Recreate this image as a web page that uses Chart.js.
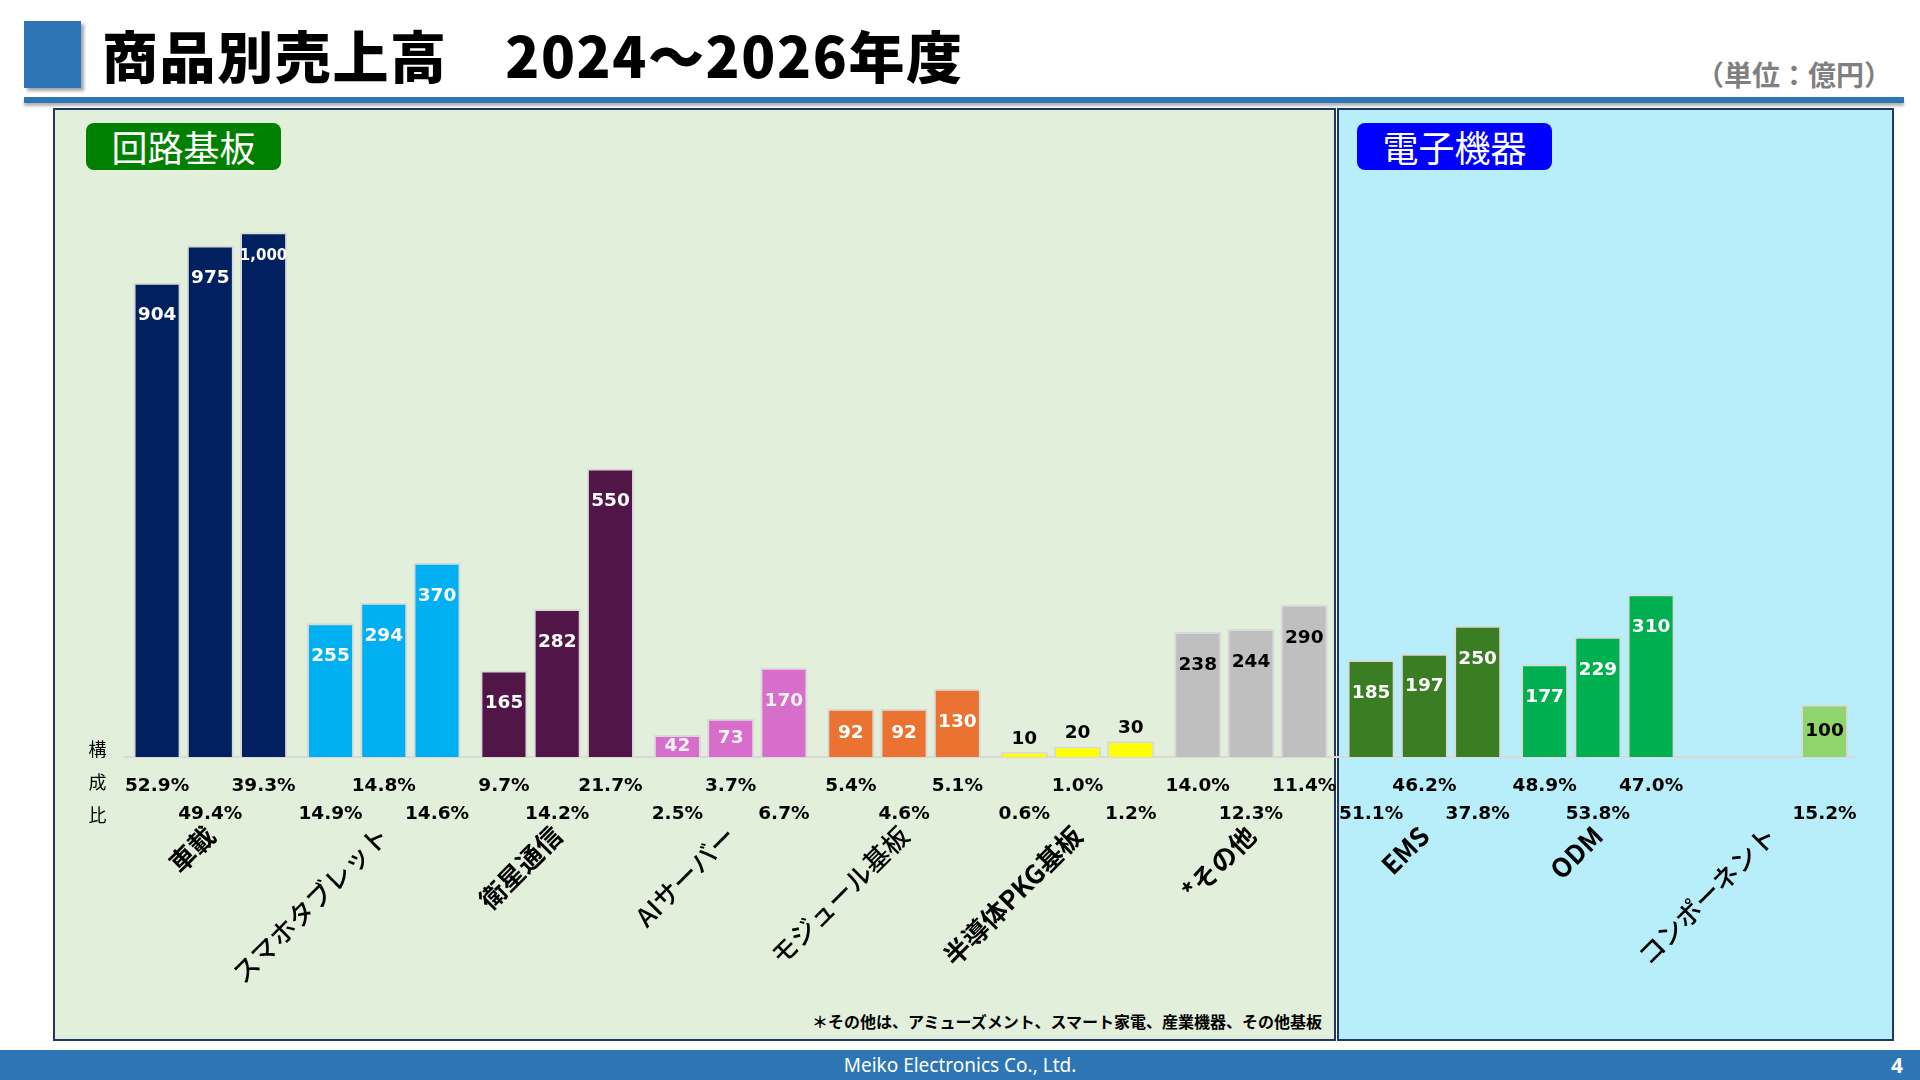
<!DOCTYPE html>
<html lang="ja">
<head>
<meta charset="utf-8">
<title>商品別売上高 2024～2026年度</title>
<script src="https://cdn.jsdelivr.net/npm/chart.js@4.4.1/dist/chart.umd.min.js"></script>
<style>
  html, body { margin: 0; padding: 0; background: #fff; }
  #page { position: relative; width: 1920px; height: 1080px; overflow: hidden;
          font-family: "Noto Sans CJK JP", "Noto Sans", sans-serif; }
  .marca { position: absolute; left: 24px; top: 21px; width: 57px; height: 67px;
           background: #2E75B6; box-shadow: 3px 3px 3px rgba(0,0,0,0.35); }
  .titulo { position: absolute; left: 102px; top: 19px; font-size: 56px; font-weight: 900;
            letter-spacing: 1.6px; line-height: 70px; color: #000; white-space: nowrap; }
  .unidad { position: absolute; right: 28px; top: 57px; font-size: 28px; font-weight: 700;
            line-height: 34px; color: #7F7F7F; white-space: nowrap; }
  .regla { position: absolute; left: 24px; top: 97px; width: 1880px; height: 6px;
           background: #2E75B6; box-shadow: 0 3px 3px rgba(0,0,0,0.3); }
  .panel { position: absolute; top: 108px; height: 933px; box-sizing: border-box;
           border: 2px solid #1F3864; }
  .panel.circuito { left: 53px; width: 1283px; background: #E2EFDA; }
  .panel.electronico { left: 1337px; width: 557px; background: #B7EEF9; }
  .etiqueta { position: absolute; top: 123px; width: 195px; height: 47px; border-radius: 8px;
              color: #fff; font-size: 36px; font-weight: 400; line-height: 47px; text-align: center; }
  .etiqueta.circuito { left: 86px; background: #008000; }
  .etiqueta.electronico { left: 1357px; background: #0000FF; }
  .nota { position: absolute; right: 598px; top: 1009px; font-size: 16px; font-weight: 700;
          line-height: 24px; color: #000; white-space: nowrap; }
  .pie { position: absolute; left: 0; top: 1050px; width: 1920px; height: 30px; background: #2E75B6;
         color: #fff; }
  .pie .empresa { position: absolute; left: 0; width: 1920px; top: 0; text-align: center;
                  font-family: "Noto Sans", sans-serif; font-size: 19px; line-height: 30px; }
  .pie .pagina { position: absolute; right: 17px; top: 0; font-family: "Noto Sans", sans-serif;
                 font-size: 21px; font-weight: 700; line-height: 30px; }
  #grafico { position: absolute; left: 0; top: 0; }
</style>
</head>
<body>
<div id="page">
  <div class="marca"></div>
  <div class="titulo">商品別売上高　2024～2026年度</div>
  <div class="unidad">（単位：億円）</div>
  <div class="regla"></div>
  <div class="panel circuito"></div>
  <div class="panel electronico"></div>
  <div class="etiqueta circuito">回路基板</div>
  <div class="etiqueta electronico">電子機器</div>
  <div class="nota">＊その他は、アミューズメント、スマート家電、産業機器、その他基板</div>
  <div class="pie">
    <div class="empresa">Meiko Electronics Co., Ltd.</div>
    <div class="pagina">4</div>
  </div>
  <canvas id="grafico" width="1920" height="1080"></canvas>
</div>

<script>
// Datos (億円 / 構成比 %)
var categorias = ["車載", "スマホタブレット", "衛星通信", "AIサーバー", "モジュール基板",
                  "半導体PKG基板", "*その他", "EMS", "ODM", "コンポーネント"];
var anios = ["2024年度", "2025年度", "2026年度"];
var ventas2024 = [904, 255, 165, 42, 92, 10, 238, 185, 177, null];
var ventas2025 = [975, 294, 282, 73, 92, 20, 244, 197, 229, null];
var ventas2026 = [1000, 370, 550, 170, 130, 30, 290, 250, 310, 100];
var ratio2024 = [52.9, 14.9, 9.7, 2.5, 5.4, 0.6, 14.0, 51.1, 48.9, null];
var ratio2025 = [49.4, 14.8, 14.2, 3.7, 4.6, 1.0, 12.3, 46.2, 53.8, null];
var ratio2026 = [39.3, 14.6, 21.7, 6.7, 5.1, 1.2, 11.4, 37.8, 47.0, 15.2];
var escalaY = [0, 1000];
var filaRatio = ["構", "成", "比"];

var colores = ["#002060", "#00B0F0", "#511548", "#D86ECC", "#EA7331",
               "#FFFF00", "#BFBFBF", "#3B7D23", "#00B050", "#8FD46C"];
var coloresTexto = ["#FFFFFF", "#FFFFFF", "#FFFFFF", "#F2F2F2", "#FFFFFF",
                    "#000000", "#000000", "#FFFFFF", "#FFFFFF", "#000000"];
var pesosCategoria = ["bold", "500", "bold", "500", "500", "bold", "bold", "bold", "bold", "500"];

var ventas = [ventas2024, ventas2025, ventas2026];
var ratios = [ratio2024, ratio2025, ratio2026];

var etiquetasPlugin = {
    id: "etiquetas",

    beforeDatasetsDraw: function (chart) {
        var ctx = chart.ctx;
        var area = chart.chartArea;
        var y0 = chart.scales.y.getPixelForValue(0);
        ctx.save();
        ctx.strokeStyle = "#D9D9D9";
        ctx.lineWidth = 2;
        ctx.beginPath();
        ctx.moveTo(area.left, y0);
        ctx.lineTo(area.right, y0);
        ctx.stroke();
        ctx.restore();
    },

    afterDatasetsDraw: function (chart) {
        var ctx = chart.ctx;
        var area = chart.chartArea;
        var xScale = chart.scales.x;
        var y0 = chart.scales.y.getPixelForValue(0);

        ctx.save();
        ctx.textAlign = "center";
        ctx.textBaseline = "middle";

        // valores dentro / encima de las barras
        chart.data.datasets.forEach(function (ds, d) {
            var meta = chart.getDatasetMeta(d);
            meta.data.forEach(function (bar, i) {
                var valor = ds.data[i];
                if (valor === null || valor === undefined) return;
                var alto = y0 - bar.y;
                var y;
                if (valor <= 30) {
                    ctx.fillStyle = "#000000";
                    y = bar.y - 13;
                } else {
                    ctx.fillStyle = coloresTexto[i];
                    y = bar.y + Math.min(valor >= 1000 ? 24 : 33, alto / 2);
                }
                ctx.font = (valor >= 1000 ? "bold 15px" : "bold 18.5px") + ' "DejaVu Sans", sans-serif';
                ctx.fillText(valor.toLocaleString("en-US"), bar.x, y);
            });
        });

        // 構成比: alterna entre dos filas
        ctx.fillStyle = "#000000";
        ctx.font = 'bold 18.5px "DejaVu Sans", sans-serif';
        ratios.forEach(function (serie, d) {
            var meta = chart.getDatasetMeta(d);
            serie.forEach(function (r, i) {
                if (r === null) return;
                var fila = (i * 3 + d) % 2;
                ctx.fillText(r.toFixed(1) + "%", meta.data[i].x, y0 + (fila ? 57.5 : 29.5));
            });
        });

        ctx.font = '18px "Noto Sans CJK JP", sans-serif';
        filaRatio.forEach(function (c, k) {
            ctx.fillText(c, area.left - 26, y0 - 8 + k * 33);
        });

        // categorías giradas 45°
        ctx.textAlign = "right";
        categorias.forEach(function (cat, i) {
            var x = xScale.getPixelForValue(i);
            ctx.save();
            ctx.translate(x, y0 + 74);
            ctx.rotate(-Math.PI / 4);
            ctx.font = pesosCategoria[i] + ' 26px "Noto Sans CJK JP", sans-serif';
            ctx.fillText(cat, 0, 0);
            ctx.restore();
        });

        ctx.restore();
    },
};

function crearDataset(d) {
    return {
        label: anios[d],
        data: ventas[d],
        backgroundColor: colores,
        borderColor: "#D9D9D9",
        borderWidth: 2,
        barPercentage: 0.885,
        categoryPercentage: 0.921,
    };
}

var chart = new Chart(document.getElementById("grafico"), {
    type: "bar",
    data: {
        labels: categorias,
        datasets: [crearDataset(0), crearDataset(1), crearDataset(2)],
    },
    options: {
        responsive: false,
        animation: false,
        layout: { padding: { left: 123.6, right: 62, top: 232.3, bottom: 323 } },
        plugins: {
            legend: { display: false },
            tooltip: { enabled: false },
        },
        scales: {
            x: { display: false },
            y: { display: false, min: escalaY[0], max: escalaY[1] },
        },
    },
    plugins: [etiquetasPlugin],
});
</script>
</body>
</html>
